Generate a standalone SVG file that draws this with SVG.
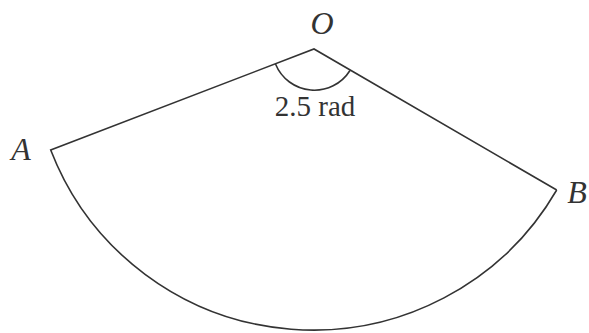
<svg xmlns="http://www.w3.org/2000/svg" width="589" height="333" viewBox="0 0 589 333">
<style>
.ln{fill:none;stroke:#333;stroke-width:1.6;stroke-linejoin:miter}
.lbl{font-family:"Liberation Serif",serif;font-style:italic;font-size:32px;fill:#333}
.txt{font-family:"Liberation Serif",serif;font-size:29px;fill:#333}
</style>
<rect width="589" height="333" fill="#fff"/>
<g id="connectors">
<path class="ln" d="M 556.7 190 L 314 49 L 50.7 150 A 281.5 281.5 0 0 0 556.7 190"/>
<path class="ln" d="M 275.5 64 A 42 42 0 0 0 350 70.5"/>
</g>
<g id="O"><text class="lbl" x="322" y="34" text-anchor="middle">O</text></g>
<g id="A"><text class="lbl" x="21" y="160" text-anchor="middle">A</text></g>
<g id="B"><text class="lbl" x="577" y="203" text-anchor="middle">B</text></g>
<g id="angle"><text class="txt" x="315" y="116" text-anchor="middle">2.5 rad</text></g>
</svg>
